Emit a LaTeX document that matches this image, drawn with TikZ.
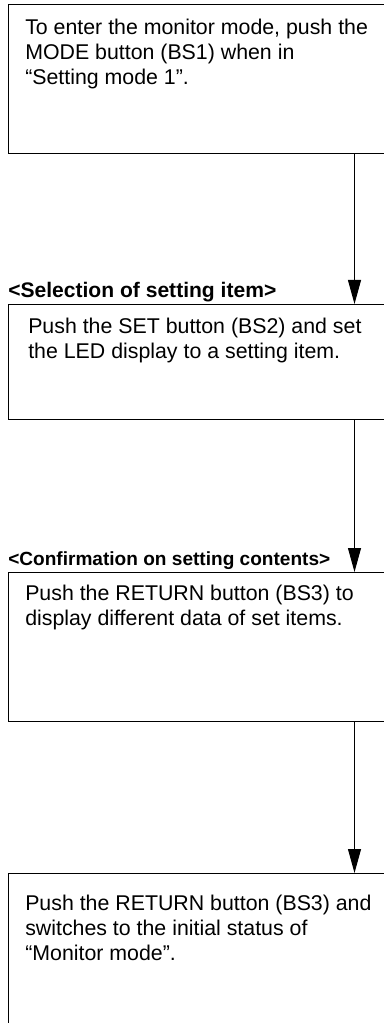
\documentclass[tikz,border=0pt]{standalone}
\usepackage{fontspec}
\setmainfont{Liberation Sans}
\usetikzlibrary{arrows.meta}
\begin{document}
\begin{tikzpicture}[x=0.75pt,y=-0.75pt,>={Triangle[length=18pt,width=9.75pt]},
  box/.style={draw,line width=0.9pt,anchor=north west,minimum width=300pt,inner sep=0pt},
  bodytext/.style={anchor=north west,inner sep=0pt,align=left,font=\fontsize{16}{18.75}\selectfont},
  heading/.style={anchor=base west,inner sep=0pt,font=\bfseries\fontsize{15.8}{18}\selectfont}]
  \useasboundingbox (0,0) rectangle (384,1023);
  \clip (0,0) rectangle (384,1023);
  \coordinate (arrowx) at (354.5,0);
  % boxes, open to the right
  \node[box,minimum height=111.75pt] (box1) at (8,4) {};
  \node[box,minimum height=86.25pt] (box2) at (8,304) {};
  \node[box,minimum height=111.75pt] (box3) at (8,572) {};
  \node[box,minimum height=125.25pt] (box4) at (8,873) {};
  % texts
  \node[bodytext] (text1) at (25,18.7) {To enter the monitor mode, push the\\MODE button (BS1) when in\\``Setting mode 1''.};
  \node[heading] (head2) at (8,297.5) {<Selection of setting item>};
  \node[bodytext] (text2) at (28,317.5) {Push the SET button (BS2) and set\\the LED display to a setting item.};
  \node[heading,font=\bfseries\fontsize{14.3}{17}\selectfont] (head3) at (8,565) {<Confirmation on setting contents>};
  \node[bodytext] (text3) at (25,584.5) {Push the RETURN button (BS3) to\\display different data of set items.};
  \node[bodytext] (text4) at (25,894.5) {Push the RETURN button (BS3) and\\switches to the initial status of\\``Monitor mode''.};
  % arrows
  \draw[->,line width=0.75pt] (box1.south -| arrowx) -- (box2.north -| arrowx);
  \draw[->,line width=0.75pt] (box2.south -| arrowx) -- (box3.north -| arrowx);
  \draw[->,line width=0.75pt] (box3.south -| arrowx) -- (box4.north -| arrowx);
\end{tikzpicture}
\end{document}
